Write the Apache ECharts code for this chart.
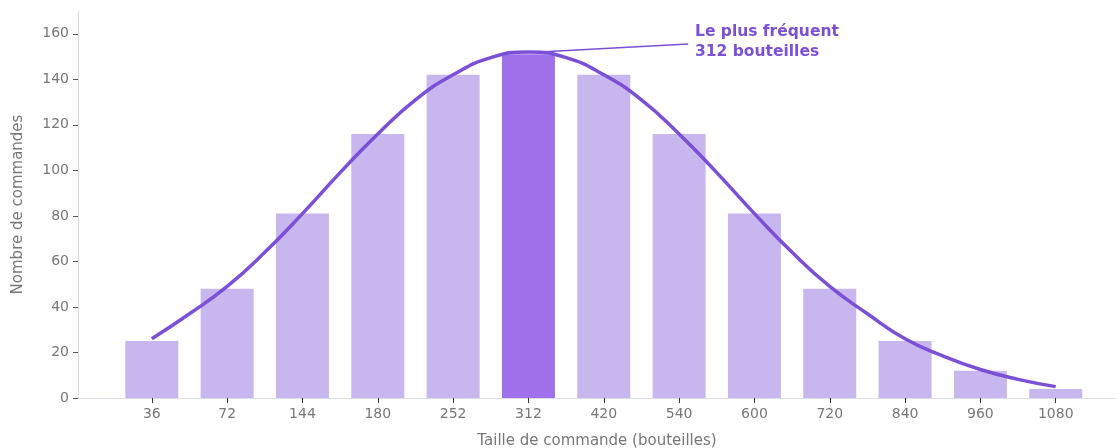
<!DOCTYPE html>
<html lang="fr">
<head>
    <meta charset="UTF-8">
    <title>Taille de commande</title>
    <style>
        html, body { margin: 0; padding: 0; background: #fff; }
        #chart { width: 1118px; height: 448px; }
    </style>
</head>
<body>
<div id="chart"></div>
<script src="https://cdn.jsdelivr.net/npm/echarts@6/dist/echarts.min.js"></script>
<script type="text/javascript">
    // tailles de commande (bouteilles)
    var categories = ['36', '72', '144', '180', '252', '312', '420', '540', '600', '720', '840', '960', '1080'];
    // nombre de commandes par taille
    var counts = [25, 48, 81, 116, 142, 151, 142, 116, 81, 48, 25, 12, 4];
    // courbe lissée, tous les demi-pas de catégorie
    var curveX = [0, 0.5, 1, 1.5, 2, 2.5, 3, 3.5, 4, 4.5, 5, 5.5, 6, 6.5, 7, 7.5, 8, 8.5, 9, 9.5, 10, 10.5, 11, 11.5, 12];
    var curveY = [26, 37, 49, 64, 81, 99, 116, 131, 142, 149.5, 152, 149.5, 142, 131, 116, 99, 81, 64, 49, 37, 26, 18.5, 12.5, 8.2, 5];
    var peakIndex = 5;
    var yTicks = [0, 20, 40, 60, 80, 100, 120, 140, 160];

    var light = '#c8b6ee';
    var strong = '#9f70ea';
    var lineColor = '#7b4fd6';
    var fontFamily = 'DejaVu Sans';

    var idx = categories.map(function (c, i) { return i; });

    var myChart = echarts.init(document.getElementById('chart'));
    myChart.setOption({
        backgroundColor: '#fff',
        animation: false,
        textStyle: { fontFamily: fontFamily },
        grid: { left: 78, right: 2, top: 11, bottom: 50, outerBoundsMode: 'none' },
        xAxis: {
            type: 'value',
            min: -0.98,
            max: 12.8,
            name: 'Taille de commande (bouteilles)',
            nameLocation: 'middle',
            nameGap: 36,
            nameTextStyle: { color: '#777', fontSize: 15, fontFamily: fontFamily },
            splitLine: { show: false },
            axisLine: { show: true, onZero: false, lineStyle: { color: '#dcdce4', width: 1.2 } },
            axisTick: { show: true, customValues: idx, length: 5, lineStyle: { color: '#333' } },
            axisLabel: {
                customValues: idx,
                color: '#777',
                fontSize: 14,
                margin: 9,
                formatter: function (v) { return categories[Math.round(v)] || ''; }
            }
        },
        yAxis: {
            type: 'value',
            min: 0,
            max: 170,
            name: 'Nombre de commandes',
            nameLocation: 'middle',
            nameGap: 52,
            nameTextStyle: { color: '#777', fontSize: 15, fontFamily: fontFamily },
            splitLine: { show: false },
            axisLine: { show: true, onZero: false, lineStyle: { color: '#dcdce4', width: 1.2 } },
            axisTick: { show: true, customValues: yTicks, length: 5, lineStyle: { color: '#555' } },
            axisLabel: { customValues: yTicks, color: '#777', fontSize: 14, margin: 9 }
        },
        series: [
            {
                type: 'bar',
                barWidth: 53,
                data: counts.map(function (v, i) {
                    return {
                        value: [i, v],
                        itemStyle: { color: i === peakIndex ? strong : light }
                    };
                }),
                z: 1
            },
            {
                type: 'line',
                smooth: 0.5,
                symbol: 'none',
                data: curveY.map(function (v, i) { return [curveX[i], v]; }),
                lineStyle: { color: lineColor, width: 3.5 },
                z: 3,
                markLine: {
                    silent: true,
                    symbol: 'none',
                    label: { show: false },
                    lineStyle: { color: lineColor, width: 1.5, type: 'solid' },
                    data: [[{ coord: [peakIndex + 0.15, 152] }, { coord: [peakIndex + 2.12, 155.5] }]]
                }
            }
        ],
        graphic: [
            {
                type: 'text',
                left: 695,
                top: 22,
                style: {
                    text: 'Le plus fréquent\n312 bouteilles',
                    fill: lineColor,
                    font: 'bold 15.5px "DejaVu Sans"',
                    lineHeight: 20
                }
            }
        ]
    });
</script>
</body>
</html>
